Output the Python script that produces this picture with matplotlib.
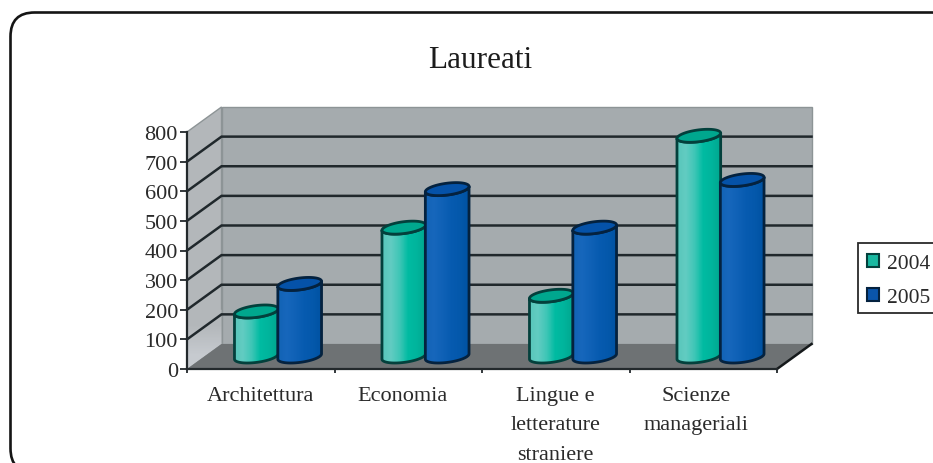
import numpy as np
import matplotlib
matplotlib.use("Agg")
import matplotlib.pyplot as plt
from matplotlib.colors import LinearSegmentedColormap
from matplotlib.patches import Polygon, FancyBboxPatch, Patch, Rectangle

title = "Laureati"
categories = ["Architettura", "Economia", "Lingue e\nletterature\nstraniere", "Scienze\nmanageriali"]
label_positions = [0.5, 1.46, 2.5, 3.45]
series_names = ["2004", "2005"]
values_2004 = [152, 435, 205, 745]
values_2005 = [245, 565, 435, 596]
y_ticks = [0, 100, 200, 300, 400, 500, 600, 700, 800]

plt.rcParams["font.family"] = ["Liberation Serif", "DejaVu Serif"]
TEXT = "#2a2a2a"
FS = 16
W, H = 933, 464
fig = plt.figure(figsize=(W / 100, H / 100), dpi=100, facecolor="white")

# Frame and legend box, in pixel coordinates
bg = fig.add_axes([0, 0, 1, 1], zorder=0)
bg.set_xlim(0, W); bg.set_ylim(H, 0); bg.axis("off")
bg.add_patch(FancyBboxPatch((10.5, 13.5), 945, 460,
                            boxstyle="round,pad=0,rounding_size=24",
                            fc="white", ec="#151515", lw=1.9))
bg.add_patch(Rectangle((857.5, 243.5), 90, 70, fc="white", ec="#2a2a2a", lw=1.3))

# Front plane of the 3-D box
L, R, Y0, Y800 = 187.0, 777.0, 370.0, 133.0
ax = fig.add_axes([L / W, 1 - Y0 / H, (R - L) / W, (Y0 - Y800) / H], zorder=1)
ax.patch.set_alpha(0)
ax.set_xlim(0, 4); ax.set_ylim(0, 800)
DX, DY = 0.234, 84.4   # depth shift, in data units

def face(pts, color, z, ec="none", lw=0):
    p = Polygon(pts, closed=True, fc=color, ec=ec, lw=lw, zorder=z, clip_on=False)
    ax.add_patch(p)
    return p

# Walls and floor
face([(DX, DY), (4 + DX, DY), (4 + DX, 800 + DY), (DX, 800 + DY)], "#a5abae", 1, "#8d9496", 1)
face([(0, 0), (DX, DY), (DX, 800 + DY), (0, 800)], "#b3b7ba", 1.1, "#8d9496", 1)
face([(0, 0), (4, 0), (4 + DX, DY), (DX, DY)], "#6e7274", 1.2)
ax.imshow(np.array([[0.0], [1.0]]), extent=[0, DX, 0, 200], aspect="auto", zorder=1.15,
          cmap=LinearSegmentedColormap.from_list("s", ["#c6cacf", "#b3b7ba"]),
          origin="lower", interpolation="bilinear",
          clip_path=Polygon([(0, 0), (DX, DY), (DX, 200), (0, 200)], transform=ax.transData))

# Grid lines on side and back walls
for v in y_ticks[1:-1]:
    ax.plot([0, DX, 4 + DX], [v, v + DY, v + DY], color="#20282c", lw=1.8, zorder=1.5,
            clip_on=False, solid_joinstyle="miter")
ax.plot([4, 4 + DX], [0, DY], color="#15191b", lw=1.8, zorder=1.5, clip_on=False)

cmap_a = LinearSegmentedColormap.from_list("a", ["#58c6ba", "#62ccc2", "#3ec6b6", "#00bba2", "#00b49c", "#00a78f"])
cmap_b = LinearSegmentedColormap.from_list("b", ["#1263b5", "#1767bc", "#0f61b6", "#075bb0", "#0458ab", "#0052a2"])
grad = np.linspace(0, 1, 128)[None, :]

HALF = 0.135      # half width of a cylinder along x
SKEW = 0.26       # half depth of a cylinder, as part of the box depth
z = 2.0

def ring(cx, v, ts):
    return cx + HALF * np.cos(ts) + SKEW * DX * np.sin(ts), v + DY * 0.5 + SKEW * DY * np.sin(ts)

def cylinder(cx, v, cmap, top, edge):
    global z
    t0 = np.arctan2(SKEW * DX, HALF)
    low = np.linspace(t0 + np.pi, t0 + 2 * np.pi, 50)
    bx, by = ring(cx, 0, low)
    tx, ty = ring(cx, v, low[::-1])
    body = np.column_stack([np.r_[bx, tx], np.r_[by, ty]])
    outline = face(body, "none", z + 0.2, edge, 2.0)
    outline.set_joinstyle("round")
    clip = Polygon(body, transform=ax.transData)
    ax.imshow(grad, extent=[bx.min(), bx.max(), 0, v + 200], aspect="auto", cmap=cmap,
              zorder=z, clip_path=clip, interpolation="bilinear")
    cx2, cy2 = ring(cx, v, np.linspace(0, 2 * np.pi, 80))
    face(np.column_stack([cx2, cy2]), top, z + 0.3, edge, 2.0)
    z += 1

for i in range(len(categories)):
    centre = i + 0.5 + DX / 2
    cylinder(centre - HALF - 0.012, values_2004[i], cmap_a, "#00a78e", "#03403c")
    cylinder(centre + HALF + 0.012, values_2005[i], cmap_b, "#0552a8", "#04223f")

ax.set_xlim(0, 4); ax.set_ylim(0, 800)

# Axes
for s in ("top", "right"):
    ax.spines[s].set_visible(False)
for s in ("left", "bottom"):
    ax.spines[s].set_color("#23292c"); ax.spines[s].set_linewidth(1.6); ax.spines[s].set_zorder(1.6)
ax.set_yticks(y_ticks)
ax.set_xticks([0, 1, 2, 3, 4])
ax.set_xticklabels([])
ax.set_xticks(label_positions, minor=True)
ax.set_xticklabels(categories, minor=True, fontsize=FS, color=TEXT, linespacing=1.75)
ax.tick_params(axis="y", length=5, width=1.3, color="#23292c", pad=1.5, labelsize=FS, labelcolor=TEXT)
ax.tick_params(axis="x", which="major", length=3, width=1.3, color="#23292c")
ax.tick_params(axis="x", which="minor", length=0, pad=12)

fig.text(480 / W, 1 - 60 / H, title, ha="center", va="center", fontsize=22.5, color="#1c1c1c")

# Legend
handles = [Patch(fc="#18b8a0", ec="#03403c", lw=1.5), Patch(fc="#0a55aa", ec="#04223f", lw=1.5)]
leg = fig.legend(handles, series_names, loc="upper left",
                 bbox_to_anchor=(855 / W, 1 - 243.5 / H), bbox_transform=fig.transFigure,
                 fontsize=15.5, frameon=False,
                 borderaxespad=0, borderpad=0.55, labelspacing=0.68,
                 handlelength=0.55, handleheight=0.55, handletextpad=0.4, labelcolor=TEXT)
leg.set_zorder(5)

fig.savefig("out.png", dpi=100, facecolor="white")
